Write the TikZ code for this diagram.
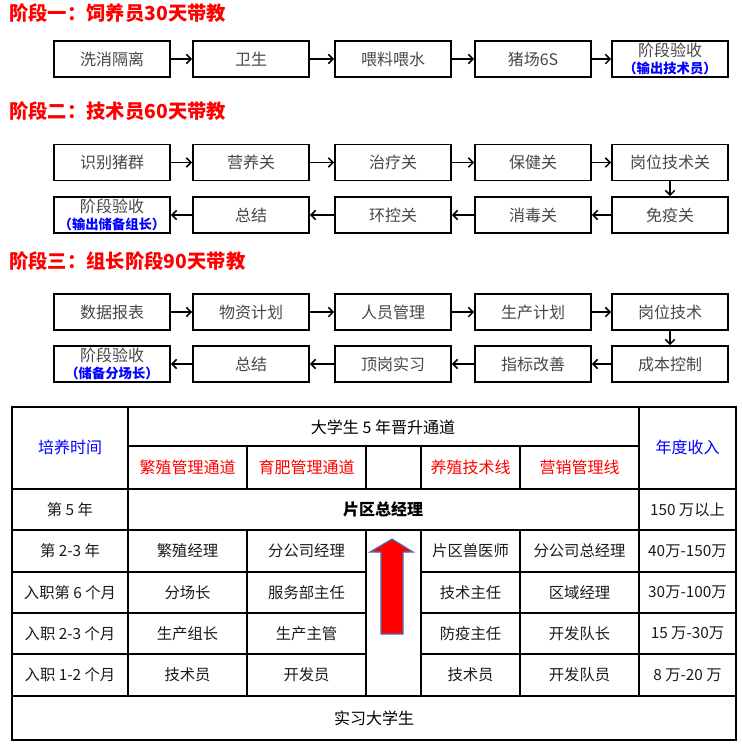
\documentclass[tikz,border=0pt]{standalone}
\usepackage{fontspec}
\setmainfont{Noto Sans CJK SC}
\usetikzlibrary{arrows.meta}
\definecolor{boxtext}{HTML}{474747}
\definecolor{tabtext}{HTML}{1A1A1A}
\definecolor{arrowline}{HTML}{4A6FB5}
\begin{document}
\begin{tikzpicture}[x=0.75pt,y=-0.75pt,
  stitle/.style={anchor=west,inner sep=0pt,text=red,font=\bfseries\fontsize{14.5}{16}\selectfont},
  stepbox/.style={draw=black,line width=1.4pt,minimum width=87pt,minimum height=27pt,inner sep=0pt,
    text=boxtext,align=center,font=\fontsize{12}{13.5}\selectfont},
  flow/.style={line width=1.1pt,-{Straight Barb[length=3.5pt,width=7pt]}},
  tline/.style={line width=0.8pt,black},
  tcell/.style={inner sep=0pt,text=tabtext,font=\fontsize{11.5}{13}\selectfont},
  thead/.style={inner sep=0pt,text=blue,font=\fontsize{12}{13}\selectfont},
  tred/.style={inner sep=0pt,text=red,font=\fontsize{12}{13}\selectfont},
  tmid/.style={inner sep=0pt,text=black,font=\fontsize{12}{13}\selectfont},
  tbold/.style={inner sep=0pt,text=black,font=\bfseries\fontsize{12}{13}\selectfont}
]
\newcommand{\subline}[1]{\\[-1pt]{\color{blue}\bfseries\fontsize{10}{10.5}\selectfont #1}}
\useasboundingbox (0,0) rectangle (742,750);

% ---------- Stage 1 ----------
\node[stitle] (t1) at (9,13) {阶段一：饲养员30天带教};
\node[stepbox] (a1) at (112,59) {洗消隔离};
\node[stepbox] (a2) at (251,59) {卫生};
\node[stepbox] (a3) at (393,59) {喂料喂水};
\node[stepbox] (a4) at (533,59) {猪场6S};
\node[stepbox] (a5) at (670,59) {阶段验收\subline{（输出技术员）}};
\draw[flow] (a1) -- (a2);
\draw[flow] (a2) -- (a3);
\draw[flow] (a3) -- (a4);
\draw[flow] (a4) -- (a5);

% ---------- Stage 2 ----------
\node[stitle] (t2) at (9,111) {阶段二：技术员60天带教};
\node[stepbox] (b1) at (112,162.5) {识别猪群};
\node[stepbox] (b2) at (251,162.5) {营养关};
\node[stepbox] (b3) at (393,162.5) {治疗关};
\node[stepbox] (b4) at (533,162.5) {保健关};
\node[stepbox] (b5) at (670,162.5) {岗位技术关};
\node[stepbox] (b10) at (112,215) {阶段验收\subline{（输出储备组长）}};
\node[stepbox] (b9) at (251,215) {总结};
\node[stepbox] (b8) at (393,215) {环控关};
\node[stepbox] (b7) at (533,215) {消毒关};
\node[stepbox] (b6) at (670,215) {免疫关};
\draw[flow] (b1) -- (b2);
\draw[flow] (b2) -- (b3);
\draw[flow] (b3) -- (b4);
\draw[flow] (b4) -- (b5);
\draw[flow] (b5) -- (b6);
\draw[flow] (b6) -- (b7);
\draw[flow] (b7) -- (b8);
\draw[flow] (b8) -- (b9);
\draw[flow] (b9) -- (b10);

% ---------- Stage 3 ----------
\node[stitle] (t3) at (9,261) {阶段三：组长阶段90天带教};
\node[stepbox] (c1) at (112,312) {数据报表};
\node[stepbox] (c2) at (251,312) {物资计划};
\node[stepbox] (c3) at (393,312) {人员管理};
\node[stepbox] (c4) at (533,312) {生产计划};
\node[stepbox] (c5) at (670,312) {岗位技术};
\node[stepbox] (c10) at (112,364) {阶段验收\subline{（储备分场长）}};
\node[stepbox] (c9) at (251,364) {总结};
\node[stepbox] (c8) at (393,364) {顶岗实习};
\node[stepbox] (c7) at (533,364) {指标改善};
\node[stepbox] (c6) at (670,364) {成本控制};
\draw[flow] (c1) -- (c2);
\draw[flow] (c2) -- (c3);
\draw[flow] (c3) -- (c4);
\draw[flow] (c4) -- (c5);
\draw[flow] (c5) -- (c6);
\draw[flow] (c6) -- (c7);
\draw[flow] (c7) -- (c8);
\draw[flow] (c8) -- (c9);
\draw[flow] (c9) -- (c10);

% ---------- Table ----------
\draw[tline] (12,407) rectangle (736,740);
\draw[tline] (128,446) -- (639,446);
\draw[tline] (12,489) -- (736,489);
\draw[tline] (12,530) -- (736,530);
\foreach \yy in {572,613,654} {
  \draw[tline] (12,\yy) -- (366,\yy);
  \draw[tline] (421,\yy) -- (736,\yy);
}
\draw[tline] (12,696) -- (736,696);
\draw[tline] (128,407) -- (128,696);
\draw[tline] (639,407) -- (639,696);
\foreach \xx in {247,366,421,520} {
  \draw[tline] (\xx,446) -- (\xx,489);
  \draw[tline] (\xx,530) -- (\xx,696);
}

% header
\node[thead] (h1) at (70,447) {培养时间};
\node[tmid] (h2) at (383,427) {大学生 5 年晋升通道};
\node[thead] (h3) at (687.5,447) {年度收入};
\node[tred] (h4) at (187.5,467) {繁殖管理通道};
\node[tred] (h5) at (306.5,467) {育肥管理通道};
\node[tred] (h6) at (470.5,467) {养殖技术线};
\node[tred] (h7) at (579.5,467) {营销管理线};

% rows
\node[tcell] (r1a) at (70,509.5) {第 5 年};
\node[tbold] (r1b) at (383,509.5) {片区总经理};
\node[tcell] (r1c) at (687.5,509.5) {150 万以上};

\node[tcell] (r2a) at (70,551) {第 2-3 年};
\node[tcell] (r2b) at (187.5,551) {繁殖经理};
\node[tcell] (r2c) at (306.5,551) {分公司经理};
\node[tcell] (r2d) at (470.5,551) {片区兽医师};
\node[tcell] (r2e) at (579.5,551) {分公司总经理};
\node[tcell] (r2f) at (687.5,551) {40万-150万};

\node[tcell] (r3a) at (70,592.5) {入职第 6 个月};
\node[tcell] (r3b) at (187.5,592.5) {分场长};
\node[tcell] (r3c) at (306.5,592.5) {服务部主任};
\node[tcell] (r3d) at (470.5,592.5) {技术主任};
\node[tcell] (r3e) at (579.5,592.5) {区域经理};
\node[tcell] (r3f) at (687.5,592.5) {30万-100万};

\node[tcell] (r4a) at (70,633.5) {入职 2-3 个月};
\node[tcell] (r4b) at (187.5,633.5) {生产组长};
\node[tcell] (r4c) at (306.5,633.5) {生产主管};
\node[tcell] (r4d) at (470.5,633.5) {防疫主任};
\node[tcell] (r4e) at (579.5,633.5) {开发队长};
\node[tcell] (r4f) at (687.5,633.5) {15 万-30万};

\node[tcell] (r5a) at (70,675) {入职 1-2 个月};
\node[tcell] (r5b) at (187.5,675) {技术员};
\node[tcell] (r5c) at (306.5,675) {开发员};
\node[tcell] (r5d) at (470.5,675) {技术员};
\node[tcell] (r5e) at (579.5,675) {开发队员};
\node[tcell] (r5f) at (687.5,675) {8 万-20 万};

\node[tmid] (r6) at (374,718) {实习大学生};

% big red arrow
\draw[fill=red,draw=arrowline,line width=0.9pt]
  (392,539) -- (413,552) -- (403,552) -- (403,634) -- (381,634) -- (381,552) -- (370,552) -- cycle;
\end{tikzpicture}
\end{document}
